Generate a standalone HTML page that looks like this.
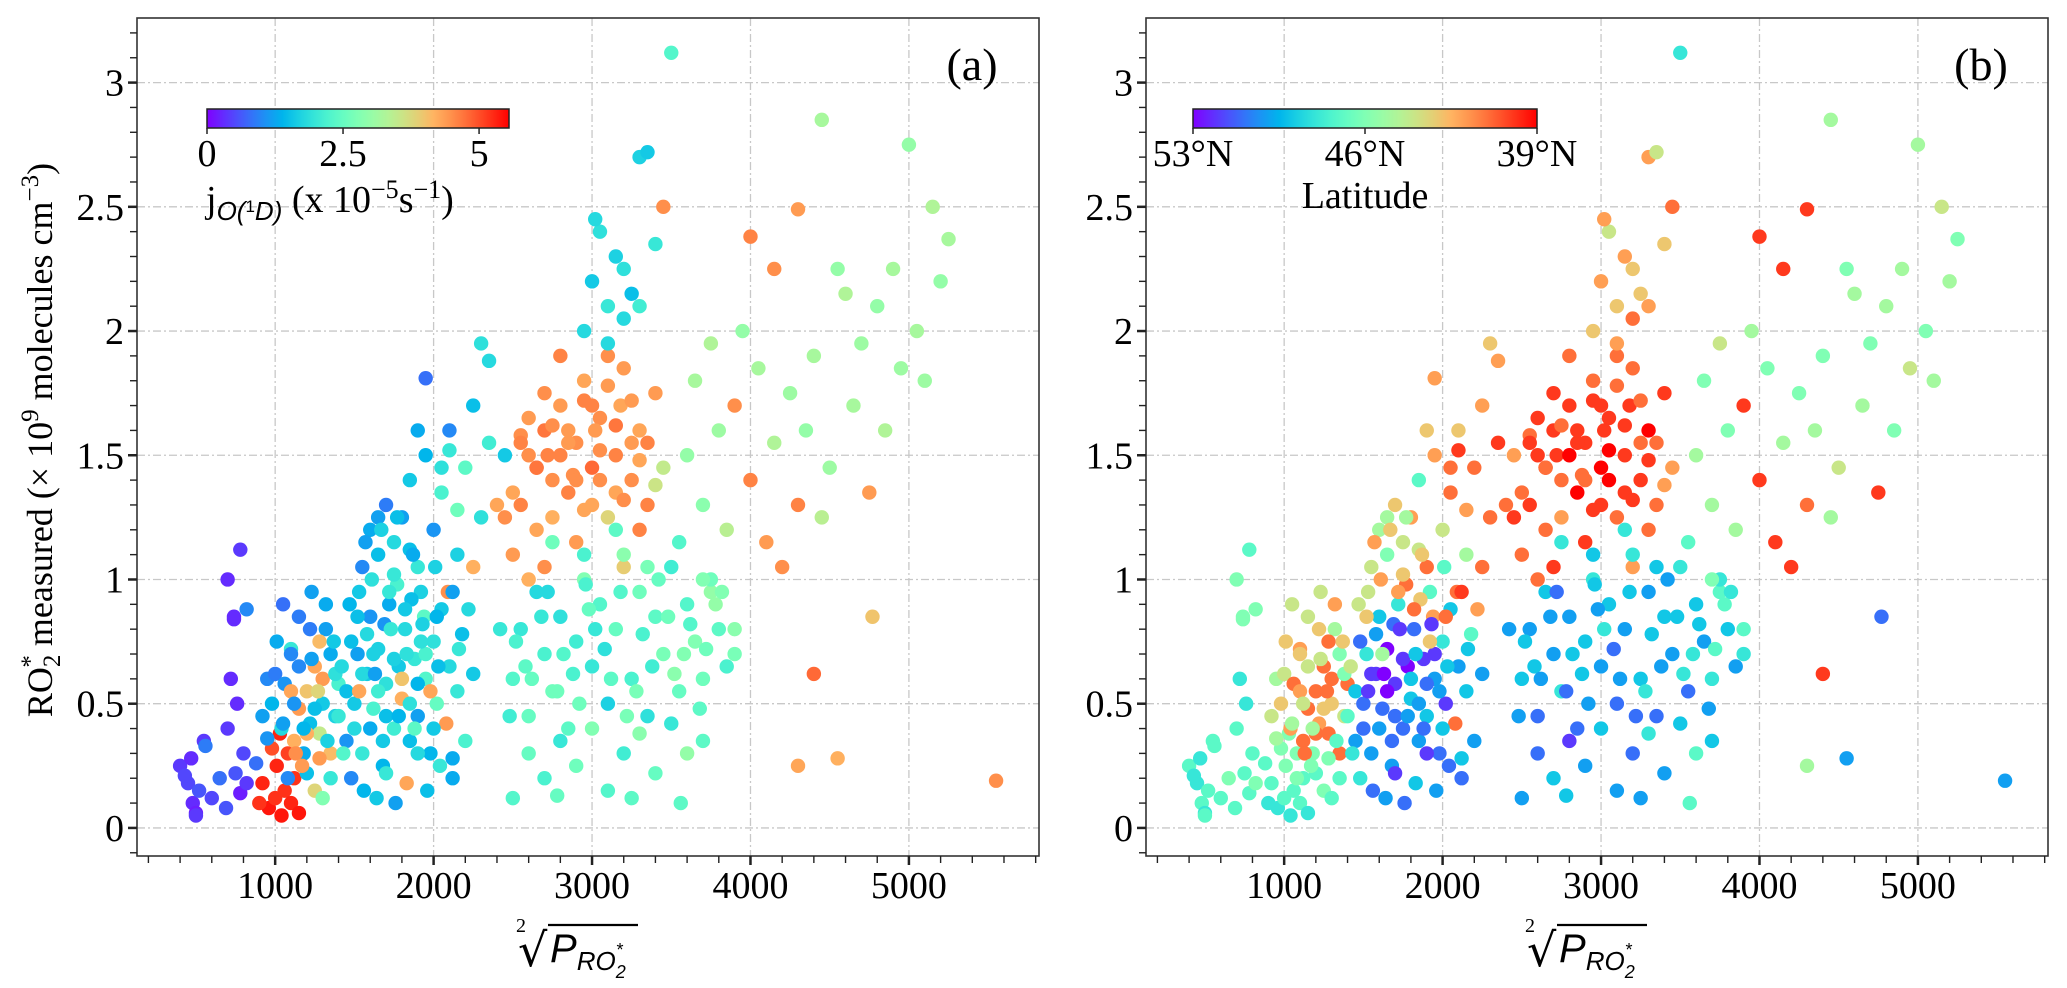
<!DOCTYPE html>
<html><head><meta charset="utf-8"><style>
html,body{margin:0;padding:0;background:#fff;}
svg{display:block;font-family:"Liberation Serif",serif;}
</style></head><body>
<svg id="fig" width="2067" height="988" viewBox="0 0 2067 988" xmlns="http://www.w3.org/2000/svg"></svg>
<script>
// ---- data (x = sqrt P_RO2*, y = RO2* measured 1e9, jO1D 1e-5 s-1, latitude °N) ----
const xs = [400,450,480,500,520,550,470,600,650,700,720,750,780,800,820,760,690,560,430,500,740,880,700,780,740,820,
920,960,1000,1010,1040,1060,1080,1100,1120,980,1030,1150,900,
920,950,980,1000,1040,1060,1100,1120,1150,1180,1200,1220,1250,1280,1300,1320,1350,1380,1400,1150,1200,1250,1300,1100,1050,1230,1280,1350,950,1010,
1450,1500,1520,1550,1580,1600,1620,1650,1680,1700,1720,1750,1780,1800,1820,1850,1880,1900,1920,1950,1980,2000,2020,2050,2080,2100,2120,2150,2180,2200,1480,1560,1640,1700,1760,1830,1900,1960,2040,2120,1530,1610,1690,1770,1860,1940,2010,2090,2160,2250,
1550,1600,1650,1700,1750,1800,1850,1900,1950,2000,2050,2100,2150,2200,2250,2300,2350,2400,2450,1650,1750,1850,1950,2050,2150,2250,2350,1900,2100,2300,
2500,2550,2600,2650,2700,2750,2800,2850,2900,2950,3000,3050,3100,3150,3200,3250,3300,3350,3400,3450,2600,2700,2800,2900,3000,3100,3200,3300,2650,2750,2850,2950,3050,3150,3250,2550,2720,2880,3020,3180,
2500,2550,2600,2650,2700,2750,2800,2850,2900,2950,3000,3050,3100,3150,3200,3250,3300,3350,3400,3450,3500,3550,3600,3650,3700,3750,3800,3850,3900,2600,2700,2800,2900,3000,3100,3200,3300,3400,3500,3600,3700,2750,2950,3150,3350,3550,3750,2500,2780,3560,
2950,3000,3050,3100,3150,3200,3250,3300,3350,3400,3450,3100,3200,3300,3500,3020,
3600,3650,3700,3750,3800,3850,3900,3950,4000,4050,4100,4150,4200,4250,4300,4350,4400,4450,4500,4550,4600,4650,4700,4750,4800,4850,4900,4950,5000,5050,5100,5150,5200,5250,3700,3900,4000,4150,4300,4450,
4300,4550,5550,4400,4770,3250,
1050,1100,1150,1200,1250,1300,1350,1400,1450,1500,1550,1600,1650,1700,1750,1800,1850,1900,1950,2000,1080,1130,1180,1230,1280,1330,1380,1430,1480,1530,1580,1630,1680,1730,1780,1830,1880,1930,1980,2030,1120,1220,1320,1420,1520,1620,1720,1820,1920,2020,2120,2220,1170,1270,1370,1470,1570,1670,1770,1870,
2450,2500,2550,2600,2650,2700,2750,2800,2850,2900,2950,3000,3050,3100,3150,3200,3250,3300,3350,3400,2480,2580,2680,2780,2880,2980,3080,3180,3280,3380,3480,3580,3680,3780,2520,2620,2720,2820,2920,3020,3120,3220,3320,3420,3520,3620,3720,3820,2420,2960];
const ys = [.25,.18,.10,.06,.15,.35,.28,.12,.20,.40,.60,.22,.14,.30,.18,.50,.08,.33,.21,.05,.84,.26,1.00,1.12,.85,.88,
.18,.08,.12,.25,.05,.15,.30,.10,.20,.32,.38,.06,.10,
.45,.60,.50,.62,.40,.58,.72,.35,.48,.30,.55,.42,.65,.38,.50,.80,.30,.45,.58,.85,.22,.15,.12,.70,.90,.95,.28,.20,.36,.75,
.55,.40,.70,.30,.62,.85,.48,.72,.25,.58,.90,.40,.65,.52,.80,.35,.68,.45,.95,.60,.30,.75,.50,.88,.42,.65,.20,.55,.78,.35,.20,.15,.12,.22,.10,.18,.30,.15,.25,.28,.95,1.00,.82,.98,.92,.85,1.05,.95,.72,.62,
1.05,1.20,1.10,1.30,1.15,1.25,1.40,1.05,1.50,1.20,1.35,1.60,1.10,1.45,1.70,1.25,1.55,1.30,1.50,1.25,1.02,1.12,1.81,1.45,1.28,1.05,1.88,1.60,1.52,1.95,
1.10,1.30,1.50,1.20,1.60,1.40,1.70,1.35,1.55,1.80,1.45,1.65,1.25,1.50,1.85,1.40,1.60,1.30,1.75,1.45,1.00,1.05,1.90,1.15,1.30,1.90,1.05,1.20,1.45,1.62,1.55,1.72,1.40,1.35,1.55,1.58,1.50,1.42,1.60,1.70,
.60,.80,.45,.95,.70,.55,.85,.40,.75,1.00,.65,.90,.50,.80,1.10,.60,.95,.45,.85,.70,1.05,.55,.90,.75,.60,.95,.80,.65,.70,.30,.20,.35,.25,.40,.15,.30,.38,.22,.42,.30,.35,1.15,1.10,1.20,1.05,1.15,1.00,.12,.13,.10,
2.00,2.20,2.40,2.10,2.30,2.05,2.15,2.70,2.72,2.35,2.50,1.95,2.25,2.10,3.12,2.45,
1.50,1.80,1.30,1.95,1.60,1.20,1.70,2.00,1.40,1.85,1.15,1.55,1.05,1.75,1.30,1.60,1.90,1.25,1.45,2.25,2.15,1.70,1.95,1.35,2.10,1.60,2.25,1.85,2.75,2.00,1.80,2.50,2.20,2.37,1.00,.80,2.38,2.25,2.49,2.85,
.25,.28,.19,.62,.85,.12,
.42,.55,.65,.38,.48,.60,.70,.45,.35,.50,.62,.40,.55,.45,.68,.60,.50,.58,.70,.40,.20,.30,.40,.68,.75,.35,.62,.30,.75,.55,.78,.62,.35,.80,.45,.70,.40,.82,.55,.65,.50,.80,.90,.65,.85,.70,.95,.88,.75,.85,.95,.88,.25,.55,.75,.90,1.15,1.20,1.25,1.10,
1.25,1.35,1.55,1.65,1.45,1.75,1.25,1.50,1.60,1.40,1.28,1.70,1.52,1.78,1.62,1.32,1.72,1.48,1.55,1.38,.45,.65,.85,.55,.62,.88,.72,.95,.55,.65,.85,.70,.48,.90,.75,.60,.95,.70,.50,.80,.60,.45,.78,1.00,.62,.82,.72,.95,.80,.98];
const jvals = [.4,.5,.3,.2,.6,.4,.3,.5,.8,.4,.3,.6,.2,.5,.4,.3,.6,.9,.5,.4,.3,.8,.3,.4,.3,1.0,
5.3,5.4,5.2,5.3,5.4,5.2,5.1,5.3,5.2,5.0,5.3,5.4,5.2,
1.2,1.0,1.4,0.9,1.8,1.1,2.0,4.2,4.4,1.3,4.0,1.5,4.3,3.5,1.6,1.2,4.1,1.7,2.2,0.9,1.5,3.8,2.8,1.0,0.8,1.2,4.4,2.0,1.1,1.3,
1.5,1.8,1.2,2.0,1.6,1.1,2.2,1.7,1.4,1.9,1.3,2.1,1.6,4.2,1.8,1.5,2.0,1.2,1.7,2.3,1.4,1.9,2.5,1.6,4.4,1.8,1.3,2.0,1.5,2.2,1.0,1.4,1.6,2.0,1.2,4.3,1.8,1.5,2.0,1.3,1.6,1.9,1.1,2.2,1.5,2.4,1.7,4.5,2.0,1.6,
1.0,1.3,1.5,0.9,1.8,1.2,1.6,2.0,1.4,1.1,2.2,1.0,1.7,2.4,1.5,1.9,2.1,4.3,1.6,1.2,2.0,1.5,0.8,1.9,2.6,4.2,1.8,1.3,2.0,1.9,
4.4,4.6,4.5,4.3,4.7,4.5,4.4,4.6,4.5,4.3,4.8,4.5,3.8,4.6,4.4,4.5,4.3,4.6,4.4,3.5,4.2,4.5,4.6,4.4,4.3,4.5,3.9,4.6,4.7,4.5,4.4,4.6,4.5,4.3,4.4,4.5,4.6,4.5,4.4,4.3,
2.3,2.0,2.5,1.8,2.2,2.6,1.9,2.4,2.1,2.8,2.0,2.3,1.7,2.5,2.9,2.2,2.6,1.9,2.4,2.7,2.1,2.5,2.3,2.8,2.6,3.0,2.4,2.2,2.7,2.5,2.2,2.0,2.6,2.8,2.3,2.1,2.9,2.5,2.0,3.0,2.4,2.6,2.2,2.4,2.7,2.3,2.6,2.3,2.5,2.4,
1.8,1.6,1.9,2.0,1.7,1.8,1.5,1.7,1.6,2.0,4.5,1.8,1.9,2.1,2.3,1.8,
3.0,3.2,2.9,3.3,3.1,3.4,4.5,3.0,4.6,3.2,4.4,3.3,4.5,3.1,4.6,3.0,3.2,3.4,3.1,3.0,3.3,3.2,3.1,4.4,3.0,3.3,3.2,3.1,3.0,3.2,3.1,3.3,3.0,3.2,2.8,2.9,4.6,4.5,4.4,3.2,
4.3,4.2,4.5,4.8,4.0,2.4,
1.2,4.3,1.0,4.2,1.5,4.4,1.3,2.0,1.1,1.6,1.8,1.3,2.1,1.5,1.7,4.0,1.9,1.4,2.2,1.6,1.0,4.5,1.4,1.2,4.1,1.7,1.9,2.3,1.5,4.3,1.8,1.2,1.6,2.0,1.4,1.9,2.4,1.7,4.3,1.5,1.1,0.9,1.3,1.8,1.5,1.7,2.0,1.6,1.9,1.4,1.2,1.8,4.4,3.8,1.6,1.4,1.2,1.7,1.5,1.3,
4.5,4.3,4.6,4.4,4.7,4.5,4.2,4.6,4.4,4.5,4.3,4.6,4.5,4.4,4.7,4.5,4.4,4.3,4.6,3.6,2.1,2.4,2.0,2.6,2.2,2.5,1.9,2.3,2.7,2.1,2.6,2.8,2.4,3.0,2.2,2.5,1.8,2.3,2.6,2.0,2.4,2.7,2.2,2.5,2.9,2.3,2.6,2.8,2.0,2.2];
const lats = [47,48,47,48,47,47,48,47,46,47,48,47,47,47,46,48,47,47,48,47,46,47,46,47,46,46,
47,48,47,46,48,47,46,47,47,46,46,48,48,
44,45,43,44,42,41,42,41,41,46,41,42,41,41,43,45,41,44,41,44,47,46,47,43,44,44,46,47,45,43,
49,51,48,50,52,49,51,53,50,52,48,51,53,49,51,50,52,49,47,50,51,48,52,49,41,50,51,49,47,50,48,51,50,52,51,49,52,50,51,49,44,42,51,41,43,42,47,41,49,50,
44,45,46,43,44,42,47,41,42,44,41,43,45,41,42,41,40,41,42,45,43,44,42,41,42,41,42,43,40,43,
41,40,40,41,40,41,40,39,40,41,39,40,41,40,41,40,39,41,40,42,41,40,41,40,40,41,42,41,40,41,40,40,39,40,41,41,40,41,40,40,
49,50,51,49,50,48,50,51,49,48,50,49,51,50,48,49,50,51,49,50,48,51,49,50,48,47,49,50,48,51,49,52,50,49,50,51,48,50,49,47,49,48,49,48,49,47,48,50,49,47,
43,42,44,43,42,41,43,42,44,43,41,42,43,42,48,42,
45,46,45,44,46,45,40,45,40,46,40,45,40,46,41,45,46,45,44,46,45,45,46,40,45,46,45,44,45,46,45,44,45,46,46,47,40,40,40,45,
45,50,50,40,51,50,
45,42,44,41,43,41,46,47,50,51,52,50,53,51,52,49,50,51,52,49,46,41,45,44,41,47,46,48,51,52,50,53,51,52,50,49,51,52,50,49,44,43,42,44,43,45,42,41,43,41,40,42,46,41,43,44,42,43,45,43,
40,41,40,40,41,40,42,39,40,41,40,40,39,41,40,40,41,40,41,42,50,49,50,51,49,50,51,49,48,50,49,48,50,47,49,50,51,49,50,48,50,51,49,50,48,49,47,48,50,49];
const xTicks = [1000,2000,3000,4000,5000];
const yTicks = [0,0.5,1,1.5,2,2.5,3];
const yTickLabels = ["0","0.5","1","1.5","2","2.5","3"];

const NS="http://www.w3.org/2000/svg";
const svg=document.getElementById('fig');
function mk(tag,attrs,parent){const e=document.createElementNS(NS,tag);for(const k in attrs)e.setAttribute(k,attrs[k]);(parent||svg).appendChild(e);return e;}
function rainbow(t){t=Math.max(0,Math.min(1,t));
  const r=Math.min(1,Math.abs(2*t-0.5)),g=Math.sin(Math.PI*t),b=Math.cos(Math.PI/2*t);
  return `rgb(${Math.round(r*255)},${Math.round(g*255)},${Math.round(b*255)})`;}

const X0=128, X1=5821, Y0=-0.113, Y1=3.26;
function makePanel(off,colorFn,name){
  const L=137+off,R=1039+off,T=18,B=856;
  const sx=v=>L+(v-X0)/(X1-X0)*(R-L);
  const sy=v=>B-(v-Y0)/(Y1-Y0)*(B-T);
  const g=mk('g',{});
  
  
  const cp=mk('clipPath',{id:'clip'+off},g);mk('rect',{x:L,y:T,width:R-L,height:B-T},cp);
  xTicks.forEach(v=>{const l=mk('line',{x1:sx(v),x2:sx(v),y1:T,y2:B,stroke:'#c8c8c8','stroke-width':1.3,'stroke-dasharray':'8 3 2 3'},g);
    });
  yTicks.forEach(v=>{const l=mk('line',{x1:L,x2:R,y1:sy(v),y2:sy(v),stroke:'#c8c8c8','stroke-width':1.3,'stroke-dasharray':'8 3 2 3'},g);
    });
  const pg=mk('g',{'clip-path':`url(#clip${off})`},g);
  
  for(let i=0;i<xs.length;i++){
    const c=mk('circle',{cx:sx(xs[i]),cy:sy(ys[i]),r:7.2,fill:colorFn(i)},pg);
    
    
  }
  const fr=mk('rect',{x:L,y:T,width:R-L,height:B-T,fill:'none',stroke:'#333','stroke-width':1.6},g);
  
  for(let v=200;v<=5800;v+=200){const maj=v%1000===0;
    mk('line',{x1:sx(v),x2:sx(v),y1:B,y2:B+(maj?9:7),stroke:'#222','stroke-width':maj?2.5:1.4},g);}
  for(let k=-1;k<=32;k++){const v=k/10;const maj=k%5===0;
    mk('line',{x1:L,x2:L-(maj?9:7),y1:sy(v),y2:sy(v),stroke:'#222','stroke-width':maj?2.5:1.4},g);}
  xTicks.forEach(v=>{const t=mk('text',{x:sx(v),y:B+42,'font-size':38,'text-anchor':'middle',fill:'#000'},g);t.textContent=v;
    });
  yTicks.forEach((v,i)=>{const t=mk('text',{x:L-13,y:sy(v)+13,'font-size':38,'text-anchor':'end',fill:'#000'},g);t.textContent=yTickLabels[i];
    });
  const cx=(L+R)/2;
  const xt=mk('g',{},g);
  let t=mk('text',{x:cx-72,y:932,'font-size':20},xt);t.textContent='2';
  t=mk('text',{x:cx-70,y:966,'font-size':46,'font-family':'DejaVu Sans, sans-serif'},xt);t.textContent='√';
  mk('line',{x1:cx-40,x2:cx+50,y1:925,y2:925,stroke:'#000','stroke-width':2.2},xt);
  t=mk('text',{x:cx-38,y:962,'font-size':40,'font-style':'italic','font-family':'Liberation Sans, sans-serif'},xt);
  t.innerHTML='P<tspan font-size="26" dy="8">RO</tspan><tspan font-size="18" dy="8">2</tspan><tspan font-size="18" dy="-22" dx="-10">*</tspan>';
  return {sx,sy,L,R,T,B};
}

const pa=makePanel(0,i=>rainbow(jvals[i]/5.55),'panel-a');
const pb=makePanel(1009,i=>rainbow((53-lats[i])/14),'panel-b');

const defs=mk('defs',{});
const lg=mk('linearGradient',{id:'rb',x1:0,x2:1,y1:0,y2:0},defs);
for(let k=0;k<=20;k++)mk('stop',{offset:k/20,'stop-color':rainbow(k/20)},lg);

let cb=mk('rect',{x:207,y:109,width:302,height:19,fill:'url(#rb)',stroke:'#222','stroke-width':1.5});

[[0,'0'],[2.5,'2.5'],[5,'5']].forEach(([v,s])=>{const x=207+v/5.55*302;
  mk('line',{x1:x,x2:x,y1:128,y2:134,stroke:'#222','stroke-width':1.5});
  const t=mk('text',{x:x,y:166,'font-size':38,'text-anchor':'middle'});t.textContent=s;
  });
let lab=mk('text',{x:206,y:212,'font-size':38});
lab.innerHTML='j<tspan font-size="26" font-style="italic" font-family="Liberation Sans, sans-serif" dy="8">O(</tspan><tspan font-size="17" font-family="Liberation Sans, sans-serif" dy="-8">1</tspan><tspan font-size="26" font-style="italic" font-family="Liberation Sans, sans-serif" dy="8">D)</tspan><tspan dy="-8"> (x 10</tspan><tspan font-size="26" dy="-14">−5</tspan><tspan dy="14">s</tspan><tspan font-size="26" dy="-14">−1</tspan><tspan dy="14">)</tspan>';


cb=mk('rect',{x:1193,y:109,width:344,height:19,fill:'url(#rb)',stroke:'#222','stroke-width':1.5});

[[53,'53°N'],[46,'46°N'],[39,'39°N']].forEach(([v,s])=>{const x=1193+(53-v)/14*344;
  mk('line',{x1:x,x2:x,y1:128,y2:134,stroke:'#222','stroke-width':1.5});
  const t=mk('text',{x:x,y:166,'font-size':38,'text-anchor':'middle'});t.textContent=s;
  });
lab=mk('text',{x:1365,y:208,'font-size':38,'text-anchor':'middle'});lab.textContent='Latitude';


let pl=mk('text',{x:972,y:80,'font-size':46,'text-anchor':'middle'});pl.textContent='(a)';

pl=mk('text',{x:1981,y:80,'font-size':46,'text-anchor':'middle'});pl.textContent='(b)';


const yt=mk('text',{x:0,y:0,'font-size':36,'text-anchor':'middle',transform:'translate(52,440) rotate(-90)'});
yt.innerHTML='RO<tspan font-size="25" dy="8">2</tspan><tspan font-size="25" dy="-22" dx="-13">*</tspan><tspan dy="14"> measured (× 10</tspan><tspan font-size="25" dy="-14">9</tspan><tspan dy="14"> molecules cm</tspan><tspan font-size="25" dy="-14">−3</tspan><tspan dy="14">)</tspan>';

</script>
</body></html>
